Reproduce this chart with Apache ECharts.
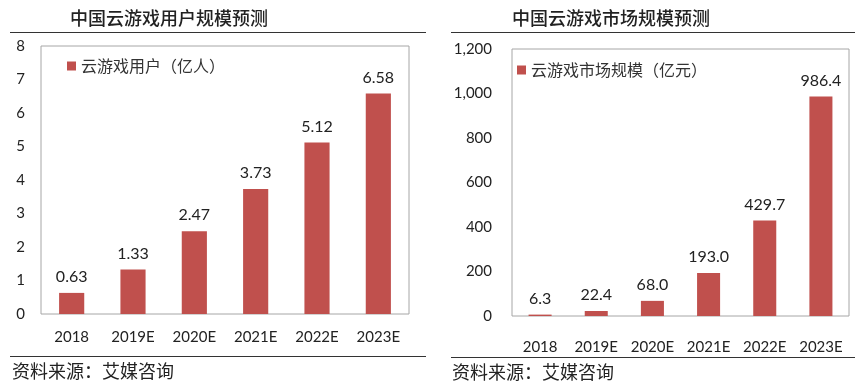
<!DOCTYPE html>
<html><head><meta charset="utf-8">
<script src="https://cdn.jsdelivr.net/npm/echarts@6/dist/echarts.min.js"></script>
<style>html,body{margin:0;padding:0;background:#fff}#c{width:865px;height:389px}</style>
</head><body><div id="c"></div>
<script>
const categories = ['2018','2019E','2020E','2021E','2022E','2023E'];
const usersValues = [0.63, 1.33, 2.47, 3.73, 5.12, 6.58];
const marketValues = [6.3, 22.4, 68.0, 193.0, 429.7, 986.4];
const leftTitle = '中国云游戏用户规模预测';
const rightTitle = '中国云游戏市场规模预测';
const usersName = '云游戏用户（亿人）';
const marketName = '云游戏市场规模（亿元）';
const sourceText = '资料来源：艾媒咨询';

const numFont = 'Lato, "Open Sans", "Noto Sans", sans-serif';
const cjkFont = '"Noto Sans CJK SC", sans-serif';
const barColor = '#C0504D';

const chart = echarts.init(document.getElementById('c'));
chart.setOption({
  animation: false,
  backgroundColor: '#fff',
  title: [
    {text: leftTitle, left: 70, top: 9, padding: 0, textStyle: {fontFamily: cjkFont, fontSize: 18, fontWeight: 500, color: '#222'}},
    {text: rightTitle, left: 512, top: 9, padding: 0, textStyle: {fontFamily: cjkFont, fontSize: 18, fontWeight: 500, color: '#222'}},
    {text: sourceText, left: 12, top: 362, padding: 0, textStyle: {fontFamily: cjkFont, fontSize: 18, fontWeight: 'normal', color: '#222'}},
    {text: sourceText, left: 452, top: 363, padding: 0, textStyle: {fontFamily: cjkFont, fontSize: 18, fontWeight: 'normal', color: '#222'}}
  ],
  graphic: [
    {type: 'line', shape: {x1: 10, y1: 32.5, x2: 426, y2: 32.5}, style: {stroke: '#333', lineWidth: 1}},
    {type: 'line', shape: {x1: 10, y1: 356.5, x2: 426, y2: 356.5}, style: {stroke: '#333', lineWidth: 1}},
    {type: 'line', shape: {x1: 451, y1: 32.5, x2: 855, y2: 32.5}, style: {stroke: '#333', lineWidth: 1}},
    {type: 'line', shape: {x1: 451, y1: 357.5, x2: 855, y2: 357.5}, style: {stroke: '#333', lineWidth: 1}}
  ],
  legend: [
    {data: [usersName], left: 62, top: 53, icon: 'rect', itemWidth: 9, itemHeight: 9, itemGap: 5,
     textStyle: {fontFamily: cjkFont, fontSize: 16, color: '#333'}},
    {data: [marketName], left: 512, top: 57, icon: 'rect', itemWidth: 9, itemHeight: 9, itemGap: 5,
     textStyle: {fontFamily: cjkFont, fontSize: 16, color: '#333'}}
  ],
  grid: [
    {left: 41, top: 46, width: 368, height: 268, show: true, borderColor: '#a6a6a6', borderWidth: 1, containLabel: false},
    {left: 512, top: 49, width: 337, height: 267, show: true, borderColor: '#a6a6a6', borderWidth: 1, containLabel: false}
  ],
  xAxis: [
    {type: 'category', gridIndex: 0, data: categories, axisTick: {show: false}, axisLine: {show: false},
     axisLabel: {interval: 0, fontFamily: numFont, fontSize: 15, color: '#222', margin: 16}},
    {type: 'category', gridIndex: 1, data: categories, axisTick: {show: false}, axisLine: {show: false},
     axisLabel: {interval: 0, hideOverlap: false, fontFamily: numFont, fontSize: 15, color: '#222', margin: 24}}
  ],
  yAxis: [
    {type: 'value', gridIndex: 0, min: 0, max: 8, interval: 1, splitLine: {show: false},
     axisLine: {show: false}, axisTick: {show: false},
     axisLabel: {fontFamily: numFont, fontSize: 15, color: '#222', margin: 16}},
    {type: 'value', gridIndex: 1, min: 0, max: 1200, interval: 200, splitLine: {show: false},
     axisLine: {show: false}, axisTick: {show: false},
     axisLabel: {fontFamily: numFont, fontSize: 15, color: '#222', margin: 20,
       formatter: v => v.toLocaleString('en-US')}}
  ],
  series: [
    {name: usersName, type: 'bar', xAxisIndex: 0, yAxisIndex: 0, data: usersValues, barWidth: '41%',
     itemStyle: {color: barColor},
     label: {show: true, position: 'top', distance: 8, fontFamily: numFont, fontSize: 16, color: '#222',
       formatter: p => p.value.toFixed(2)}},
    {name: marketName, type: 'bar', xAxisIndex: 1, yAxisIndex: 1, data: marketValues, barWidth: '41%',
     itemStyle: {color: barColor},
     label: {show: true, position: 'top', distance: 8, fontFamily: numFont, fontSize: 16, color: '#222',
       formatter: p => p.value.toFixed(1)}}
  ]
});
</script></body></html>
